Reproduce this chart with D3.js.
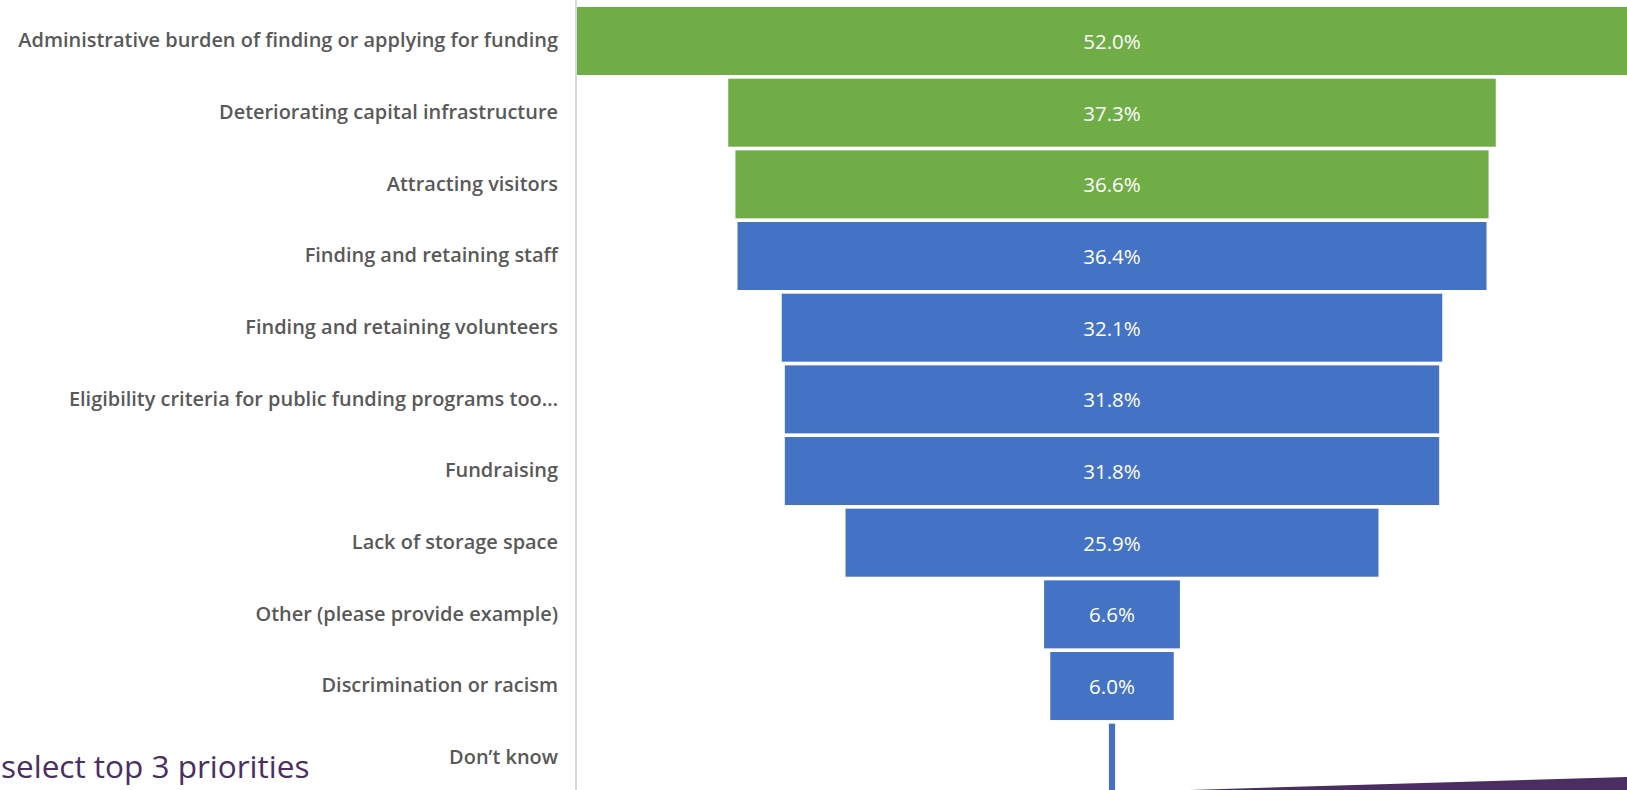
<!DOCTYPE html>
<html>
<head>
<meta charset="utf-8">
<script src="https://cdn.jsdelivr.net/npm/d3@7"></script>
<style>
  html, body { margin: 0; padding: 0; background: #fff; overflow: hidden; }
  svg { display: block; }
</style>
</head>
<body>
<div id="chart"></div>
<script>
// categories, top to bottom
var categories = [
  'Administrative burden of finding or applying for funding',
  'Deteriorating capital infrastructure',
  'Attracting visitors',
  'Finding and retaining staff',
  'Finding and retaining volunteers',
  'Eligibility criteria for public funding programs too\u2026',
  'Fundraising',
  'Lack of storage space',
  'Other (please provide example)',
  'Discrimination or racism',
  'Don\u2019t know'
];
var values = [52.0, 37.3, 36.6, 36.4, 32.1, 31.8, 31.8, 25.9, 6.6, 6.0, 0.3];
// top three are highlighted green
var highlighted = [true, true, true, false, false, false, false, false, false, false, false];
var note = 'select top 3 priorities';

var width = 1627;
var height = 790;
var axisX = 577;
var centerX = 1112;
var font = '"Open Sans", sans-serif';

var svg = d3.select('#chart')
  .append('svg')
  .attr('width', width)
  .attr('height', height);

var x = d3.scaleLinear()
  .domain([0, d3.max(values)])
  .range([0, (centerX - axisX) * 2]);

var y = d3.scaleBand()
  .domain(categories)
  .range([7, 7 + 71.67 * (categories.length - 0.051)])
  .paddingInner(0.051)
  .paddingOuter(0);

var rows = values.map(function(v, i) {
  return { label: categories[i], value: v, hi: highlighted[i] };
});

// bars, centered like a funnel
svg.selectAll('rect.bar')
  .data(rows)
  .enter()
  .append('rect')
  .attr('class', 'bar')
  .attr('x', function(d) { return centerX - x(d.value) / 2; })
  .attr('y', function(d) { return y(d.label); })
  .attr('width', function(d) { return x(d.value); })
  .attr('height', y.bandwidth())
  .attr('fill', function(d) { return d.hi ? '#70ad47' : '#4472c4'; });

// value labels (skip bars too narrow to hold text)
svg.selectAll('text.val')
  .data(rows.filter(function(d) { return x(d.value) > 60; }))
  .enter()
  .append('text')
  .attr('class', 'val')
  .attr('x', centerX)
  .attr('y', function(d) { return y(d.label) + y.bandwidth() / 2; })
  .attr('text-anchor', 'middle')
  .attr('dominant-baseline', 'central')
  .attr('fill', '#fff')
  .style('font-family', font)
  .style('font-size', '20.5px')
  .text(function(d) { return d.value.toFixed(1) + '%'; });

// category axis
var yAxis = svg.append('g')
  .attr('transform', 'translate(' + axisX + ',0)')
  .call(d3.axisLeft(y).tickSize(0).tickPadding(19));
yAxis.select('.domain').remove();
var ticks = yAxis.selectAll('text')
  .attr('fill', '#595959')
  .style('font-family', font)
  .style('font-weight', '600')
  .style('font-size', '20px');

// size the labels so the longest one spans like the original
var longest = d3.max(ticks.nodes(), function(n) { return n.getComputedTextLength(); });
ticks.style('font-size', (20 * 540 / longest) + 'px');

svg.append('line')
  .attr('x1', axisX - 1).attr('x2', axisX - 1)
  .attr('y1', 0).attr('y2', height)
  .attr('stroke', '#d9d9d9')
  .attr('stroke-width', 2);

// slide leftovers: note at the bottom left and purple wedge
svg.append('text')
  .attr('x', 1)
  .attr('y', 778)
  .attr('fill', '#4b2e63')
  .style('font-family', font)
  .style('font-size', '31.5px')
  .text(note);

svg.append('polygon')
  .attr('points', '1190,790 1627,777 1627,790')
  .attr('fill', '#4a2e62');
</script>
</body>
</html>
